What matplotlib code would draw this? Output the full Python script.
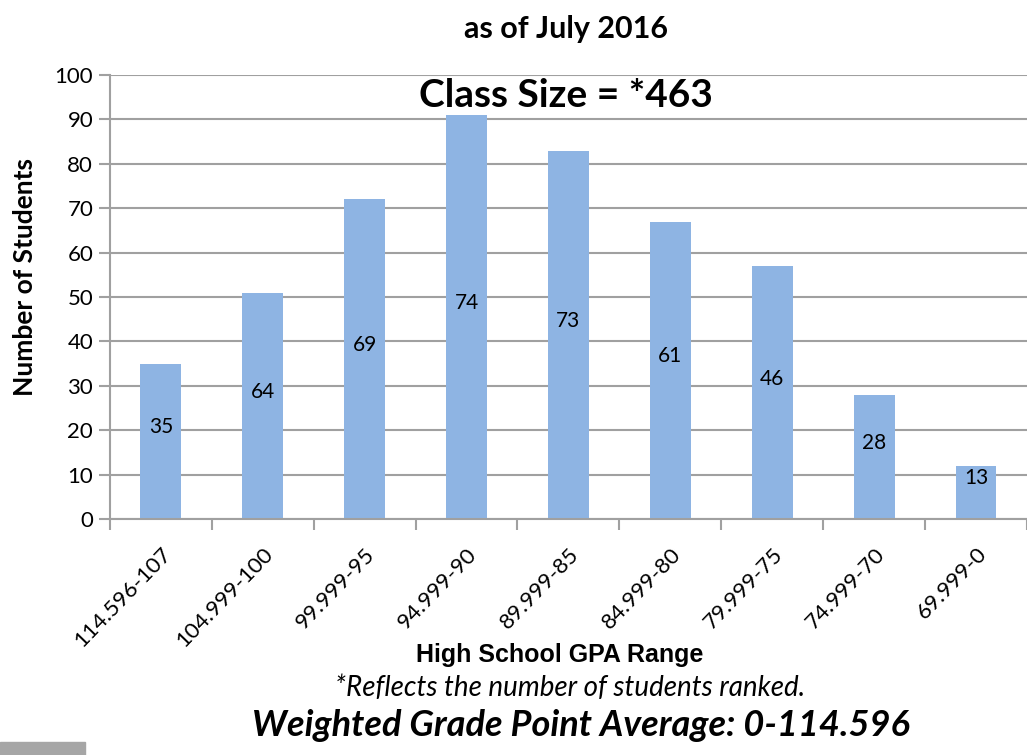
import matplotlib
matplotlib.use("Agg")
from matplotlib import pyplot as plt
from matplotlib.patches import Rectangle

gpa_ranges = ["114.596-107", "104.999-100", "99.999-95", "94.999-90", "89.999-85",
              "84.999-80", "79.999-75", "74.999-70", "69.999-0"]
bar_heights = [35, 51, 72, 91, 83, 67, 57, 28, 12]
bar_labels = [35, 64, 69, 74, 73, 61, 46, 28, 13]

grid_col = "#A0A0A0"
bar_col = "#8EB4E3"

fig = plt.figure(figsize=(10.27, 7.55), dpi=100)
ax = fig.add_axes([0.107, 0.3126, 0.893, 0.588])

x = list(range(len(gpa_ranges)))
bars = ax.bar(x, bar_heights, width=0.4, color=bar_col, zorder=2)

# value labels sit a bit above the middle of each bar
for xi, h, lab in zip(x, bar_heights, bar_labels):
    ax.annotate(str(lab), (xi, h / 2), xytext=(0, 10), textcoords="offset points",
                ha="center", va="center", fontsize=15, family="Lato", zorder=3)

ax.set_xlim(-0.5, len(gpa_ranges) - 0.5)
ax.set_ylim(0, 100)
ax.set_yticks(range(0, 101, 10))
ax.yaxis.grid(True, color=grid_col, linewidth=1.5, zorder=0)
ax.tick_params(axis="y", length=8, width=1.5, color=grid_col, labelsize=16, pad=4)
for t in ax.get_yticklabels():
    t.set_family("Lato")

# ticks between categories, labels at category centres
ax.set_xticks([i - 0.5 for i in range(len(gpa_ranges) + 1)])
ax.set_xticklabels([])
ax.set_xticks(x, minor=True)
ax.set_xticklabels(gpa_ranges, minor=True, rotation=46, ha="right",
                   rotation_mode="anchor", fontsize=16, family="Lato")
ax.tick_params(axis="x", which="major", length=8, width=1.5, color=grid_col)
ax.tick_params(axis="x", which="minor", length=0, pad=18)

for s in ["top", "right"]:
    ax.spines[s].set_visible(False)
for s in ["left", "bottom"]:
    ax.spines[s].set_color(grid_col)
    ax.spines[s].set_linewidth(1.5)

ax.set_ylabel("Number of Students", fontsize=19, fontweight="bold", family="Lato")
ax.yaxis.set_label_coords(-0.08, 0.545)

fig.text(0.551, 0.962, "as of July 2016", ha="center", va="center", fontsize=22,
         fontweight="bold", family="Lato")
ax.text(0.497, 0.955, "Class Size = *463", transform=ax.transAxes, ha="center", va="center",
        fontsize=28, fontweight="bold", family="Lato")
fig.text(0.545, 0.132, "High School GPA Range", ha="center", va="center", fontsize=18,
         fontweight="bold", family="Liberation Sans")
fig.text(0.555, 0.089, "*Reflects the number of students ranked.", ha="center", va="center",
         fontsize=20, style="italic", family="Lato")
fig.text(0.566, 0.039, "Weighted Grade Point Average: 0-114.596", ha="center", va="center",
         fontsize=26, fontweight="bold", style="italic", family="Lato")

fig.patches.append(Rectangle((0, 0), 85 / 1027, 13 / 755, transform=fig.transFigure,
                             color="#A6A6A6", figure=fig))

fig.savefig("out.png", dpi=100)
